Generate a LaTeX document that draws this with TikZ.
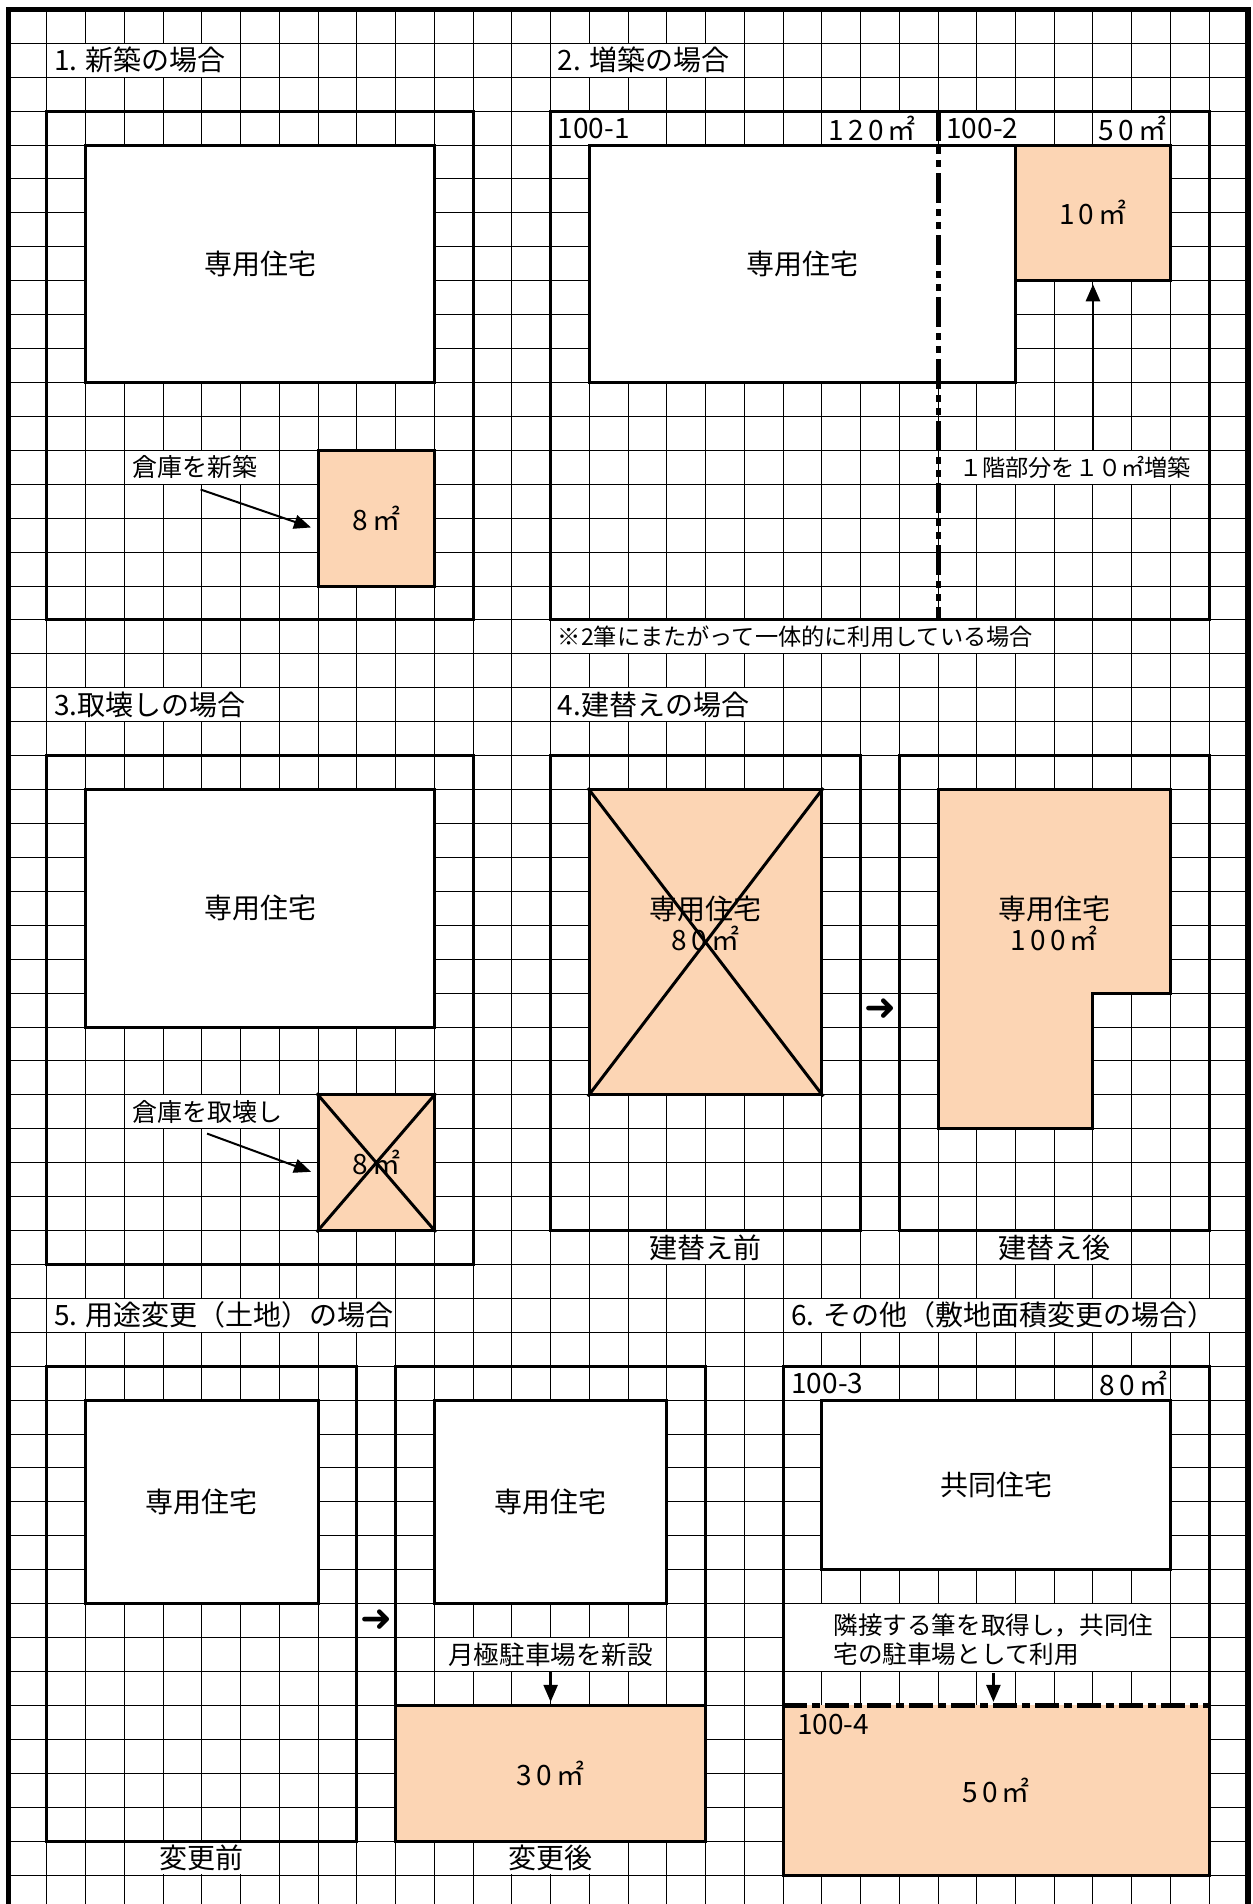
\documentclass[tikz,border=0pt]{standalone}
\usepackage{fontspec}
\setmainfont{Noto Sans CJK JP}
\newfontfamily\arrowfont{DejaVu Sans}
\usetikzlibrary{arrows.meta,fit}
\definecolor{peach}{RGB}{252,213,180}

\begin{document}
\begin{tikzpicture}[x=19.37pt, y=-16.96pt,
		ruling/.style={line width=0.5pt},
		lot/.style={line width=1.5pt},
		lot edge/.style={line width=2.5pt, dash pattern=on 15pt off 3pt on 3.5pt off 3pt on 3.5pt off 3pt},
		new edge/.style={line width=2.5pt, dash pattern=on 12pt off 2.5pt on 4pt off 2.5pt},
		roomtext/.style={font=\fontsize{14}{15.3}\selectfont},
		area/.style={font=\fontsize{14}{15.3}\selectfont\addfontfeature{LetterSpace=15}},
		house/.style={draw, line width=1.5pt, fill=white, inner sep=0pt},
		shed/.style={house, fill=peach},
		heading/.style={fill=white, inner xsep=0.5pt, inner ysep=0pt, minimum height=16.4pt, anchor=west, font=\fontsize{14}{16}\selectfont},
		note/.style={heading, font=\fontsize{12.5}{15}\selectfont},
		fine/.style={heading, font=\fontsize{11.6}{14}\selectfont},
		onward/.style={font=\arrowfont\bfseries\fontsize{19}{19}\selectfont},
		pointer/.style={-{Triangle[length=8.5pt,width=7pt]}, line width=1pt}]
		\useasboundingbox (-0.2132,-0.2771) rectangle (32.105,55.855);
		\fill[white] (-0.2132,-0.2771) rectangle (32.105,55.855);
		\foreach \cx in {1,...,31}
			\draw[ruling] (\cx,0) -- (\cx,55.855);
		\foreach \ry in {1,...,55}
			\draw[ruling] (0,\ry) -- (32,\ry);

		\node[heading] (t1) at (1.15,1.5) {1. 新築の場合};
		\node[heading] (t2) at (14.15,1.5) {2. 増築の場合};
		\node[heading] (t3) at (1.15,20.5) {3.取壊しの場合};
		\node[heading] (t4) at (14.15,20.5) {4.建替えの場合};
		\node[heading] (t5) at (1.15,38.5) {5. 用途変更（土地）の場合};
		\node[heading] (t6) at (20.18,38.5) {6. その他（敷地面積変更の場合）};

		\node[note] (a1) at (3.16,13.5) {倉庫を新築};
		\draw[lot] (1,3) rectangle (12,18);
		\node[house, fit={(2,4) (11,11)}, label={[roomtext]center:専用住宅}] (h1) {};
		\node[shed, fit={(8,13) (11,17)}, label={[area]center:8㎡}] (s1) {};
		\draw[pointer, shorten >=3pt] ([xshift=3pt, yshift=-2.7pt]a1.south) -- ([yshift=-5.6pt]s1.west);

		\node[heading] (n1) at (14.15,3.5) {100-1};
		\node[heading, anchor=center, area] (q1) at (22.3,3.5) {120㎡};
		\node[heading] (n2) at (24.18,3.5) {100-2};
		\node[heading, anchor=center, area] (q2) at (29.02,3.5) {50㎡};
		\node[fine, anchor=center] (c2) at (27.54,13.5) {１階部分を１０㎡増築};
		\node[fine] (r2) at (14.15,18.5) {※2筆にまたがって一体的に利用している場合};
		\draw[lot] (14,3) rectangle (31,18);
		\node[house, fit={(15,4) (26,11)}, label={[roomtext]center:専用住宅}] (h2) {};
		\node[shed, fit={(26,4) (30,8)}, label={[area]center:10㎡}] (s2) {};
		\draw[lot edge] (24,3) -- (24,18);
		\draw[pointer, line width=1.3pt, shorten >=1pt] (c2.north -| s2.south) -- (s2.south);

		\node[note] (a3) at (3.16,32.5) {倉庫を取壊し};
		\draw[lot] (1,22) rectangle (12,37);
		\node[house, fit={(2,23) (11,30)}, label={[roomtext]center:専用住宅}] (h3) {};
		\node[shed, fit={(8,32) (11,36)}, label={[area]center:8㎡}] (s3) {};
		\draw[lot] (s3.north west) -- (s3.south east) (s3.north east) -- (s3.south west);
		\draw[pointer, shorten >=3pt] ([yshift=-2.5pt]a3.south) -- ([yshift=-5.6pt]s3.west);

		\node[heading, anchor=center] (b1) at (18,36.5) {建替え前};
		\node[heading, anchor=center] (b2) at (27,36.5) {建替え後};
		\draw[lot] (14,22) rectangle (22,36);
		\draw[lot] (23,22) rectangle (31,36);
		\node[shed, fit={(15,23) (21,32)}] (s4) {};
		\node[roomtext, align=center] (w1) at (18,26.95) {専用住宅\\{\addfontfeature{LetterSpace=15}80㎡}};
		\draw[lot] (s4.north west) -- (s4.south east) (s4.north east) -- (s4.south west);
		\draw[lot, fill=peach] (24,23) -- (30,23) -- (30,29) -- (28,29) -- (28,33) -- (24,33) -- cycle;
		\node[roomtext, align=center] (w2) at (27,26.95) {専用住宅\\{\addfontfeature{LetterSpace=15}100㎡}};
		\node[onward] (g1) at (22.5,29.5) {➜};

		\node[heading, anchor=center] (b3) at (5,54.5) {変更前};
		\node[heading, anchor=center] (b4) at (14,54.5) {変更後};
		\node[note, anchor=center, font=\fontsize{12.8}{15}\selectfont] (m5) at (14,48.5) {月極駐車場を新設};
		\draw[lot] (1,40) rectangle (9,54);
		\draw[lot] (10,40) rectangle (18,54);
		\node[house, fit={(2,41) (8,47)}, label={[roomtext]center:専用住宅}] (h5) {};
		\node[house, fit={(11,41) (17,47)}, label={[roomtext]center:専用住宅}] (h6) {};
		\node[shed, fit={(10,50) (18,54)}, label={[area]center:30㎡}] (s5) {};
		\draw[pointer, line width=1.2pt, shorten >=1pt] (m5.south) -- (s5.north);
		\node[onward] (g2) at (9.5,47.5) {➜};

		\node[heading] (n3) at (20.18,40.5) {100-3};
		\node[heading, anchor=center, area] (q3) at (29.05,40.5) {80㎡};
		\fill[white] (20,47.02) rectangle (29.98,48.98);
		\node[anchor=west, align=left, font=\fontsize{12.3}{14.4}\selectfont] (m6) at (21.12,48.07) {隣接する筆を取得し，共同住\\宅の駐車場として利用};
		\node[shed, draw=none, fit={(20,50) (31,55)}, label={[area]center:50㎡}] (s6) {};
		\draw[lot] (20,40) rectangle (31,55);
		\node[house, fit={(21,41) (30,46)}, label={[roomtext]center:共同住宅}] (h7) {};
		\draw[new edge] (20,50) -- (31,50);
		\node[anchor=west, font=\fontsize{14}{16}\selectfont] (n4) at (20.18,50.55) {100-4};
		\draw[pointer, line width=1.2pt, shorten >=1pt] (m6.south) -- (m6.south |- s6.north);

		\draw[line width=2.75pt] (0,55.855) -- (0,0) -- (32,0) -- (32,55.855);
\end{tikzpicture}
\end{document}
